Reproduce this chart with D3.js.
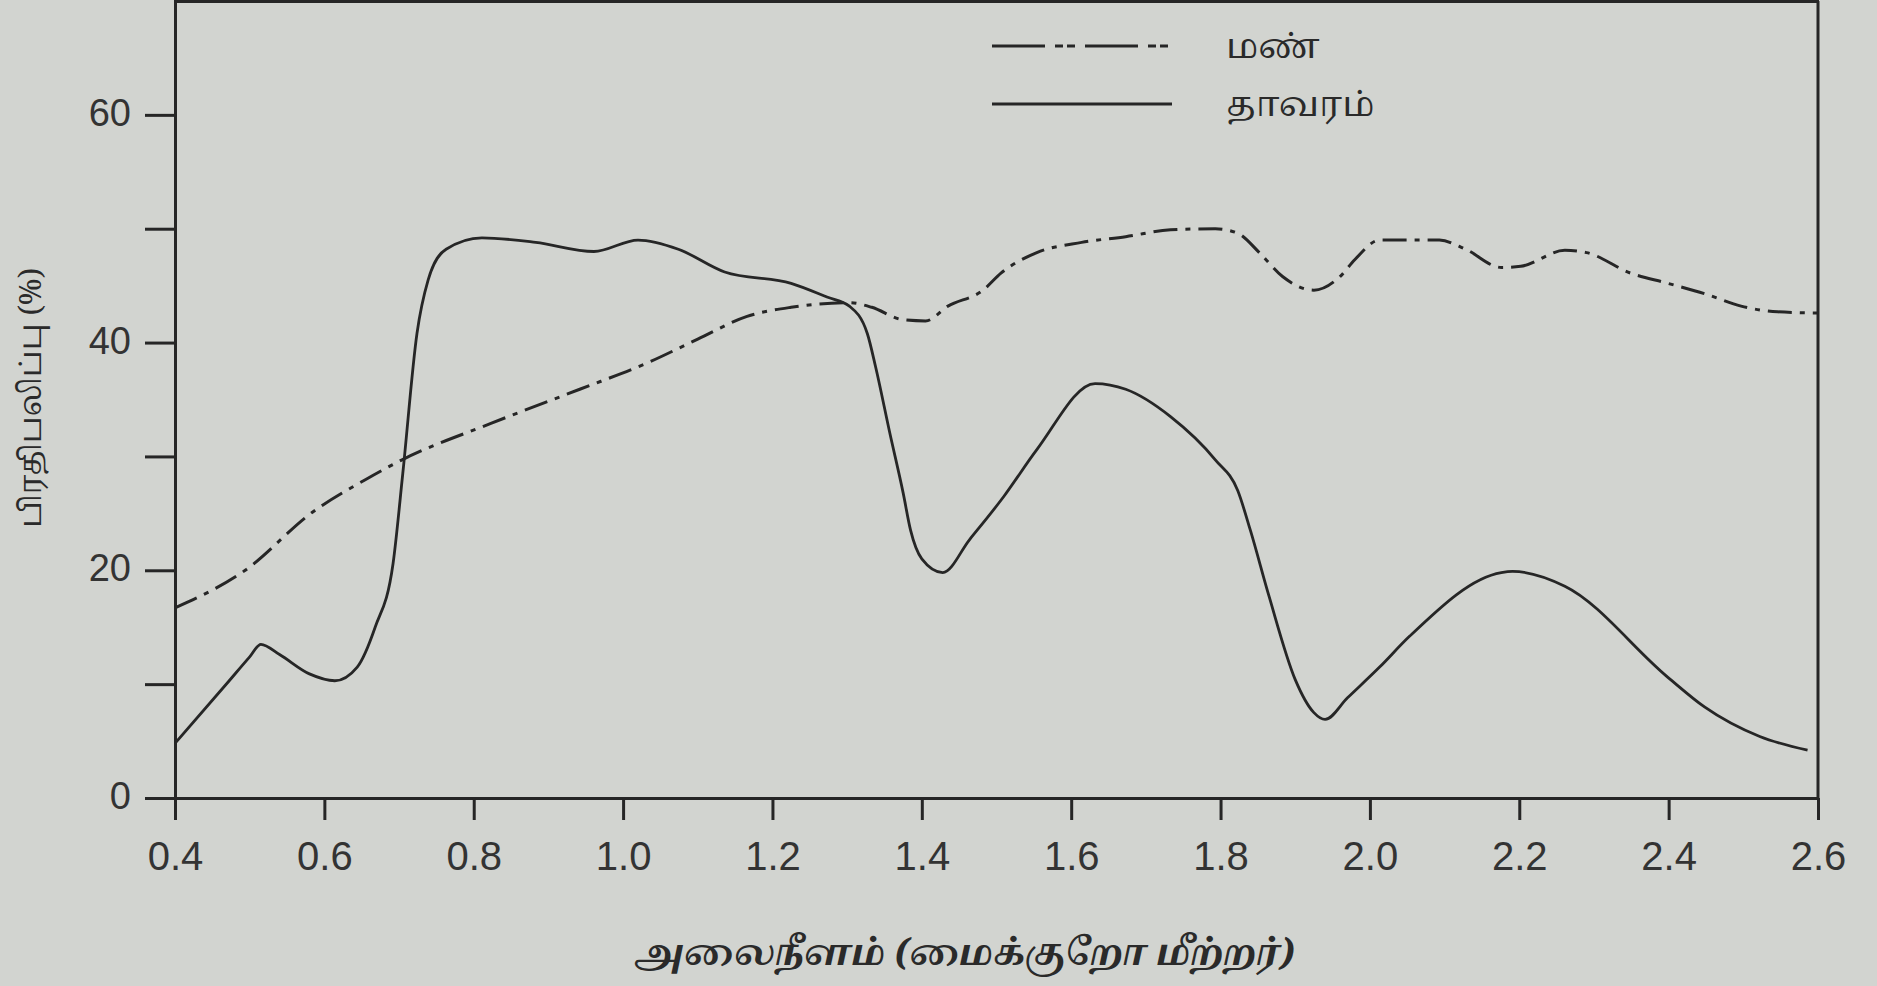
<!DOCTYPE html>
<html lang="ta">
<head>
<meta charset="utf-8">
<title>பிரதிபலிப்பு</title>
<style>
  html, body { margin: 0; padding: 0; }
  body { background-color: #d2d4d0; }
  svg { display: block; }
  .tick text { font-family: 'Liberation Sans', Arial, sans-serif; fill: #333; }
  .tam { font-family: 'Noto Serif Tamil', 'Noto Sans Tamil', 'Latha', serif; fill: #2a2a2a; }
</style>
<script src="https://d3js.org/d3.v7.min.js" charset="utf-8"></script>
</head>
<body>
<svg id="chart" width="1877" height="986"></svg>
<script type="text/javascript">
// values
var xTicks = [0.4, 0.6, 0.8, 1.0, 1.2, 1.4, 1.6, 1.8, 2.0, 2.2, 2.4, 2.6];
var yTicks = [0, 10, 20, 30, 40, 50, 60];
var yLabelled = [0, 20, 40, 60];

// தாவரம் (vegetation)
var vegWave = [0.40, 0.47, 0.50, 0.515, 0.54, 0.58, 0.614, 0.644, 0.668, 0.692, 0.705, 0.724, 0.739, 0.763, 0.811,
               0.883, 0.961, 1.020, 1.074, 1.136, 1.225, 1.273, 1.303, 1.327, 1.338, 1.357, 1.375,
               1.385, 1.400, 1.428, 1.464, 1.510, 1.554, 1.632, 1.673, 1.733, 1.793, 1.823, 1.840,
               1.865, 1.900, 1.925, 1.940, 1.97, 2.013, 2.053, 2.176, 2.191, 2.261, 2.399, 2.448, 2.522, 2.586];
var vegRefl = [4.8, 10.1, 12.4, 13.5, 12.6, 10.9, 10.3, 11.5, 15.0, 20.6, 28.5, 40.8, 45.5, 48.2, 49.2,
               48.8, 48.0, 49.0, 48.2, 46.2, 45.2, 44.0, 43.2, 40.8, 37.9, 32.1, 26.8,
               23.5, 21.0, 19.8, 22.7, 26.5, 30.6, 36.4, 35.9, 33.5, 29.7, 27.0, 23.5,
               17.7, 10.4, 7.5, 6.9, 8.8, 11.5, 14.2, 19.8, 19.9, 18.6, 10.6, 8.0, 5.4, 4.2];

// மண் (soil)
var soilWave = [0.40, 0.494, 0.584, 0.656, 0.704, 0.823, 0.942, 1.032, 1.10, 1.166, 1.225, 1.303,
                1.333, 1.375, 1.405, 1.435, 1.482, 1.506, 1.554, 1.614, 1.673, 1.733, 1.793, 1.823,
                1.852, 1.883, 1.925, 1.960, 1.980, 2.013, 2.053, 2.093, 2.128, 2.176, 2.202, 2.261,
                2.290, 2.349, 2.399, 2.448, 2.497, 2.546, 2.60];
var soilRefl = [16.7, 20.0, 25.1, 28.0, 29.7, 32.9, 35.9, 38.2, 40.3, 42.3, 43.1, 43.5,
                43.1, 42.0, 41.9, 43.2, 44.6, 46.1, 47.9, 48.8, 49.3, 49.9, 50.0, 49.6,
                47.9, 45.8, 44.6, 45.8, 47.3, 49.0, 49.0, 49.0, 48.2, 46.6, 46.7, 48.1,
                47.9, 46.1, 45.2, 44.3, 43.2, 42.7, 42.6];

var legendNames = ["மண்", "தாவரம்"];
var xTitle = "அலைநீளம் (மைக்குறோ மீற்றர்)";
var yTitle = "பிரதிபலிப்பு (%)";

var ink = "#262626";
var soilDash = "24,8,5,8";

var svg = d3.select("#chart");

var x = d3.scaleLinear().domain([0.4, 2.6]).range([175, 1818]);
var y = d3.scaleLinear().domain([0, 70]).range([798, 1]);

// axes
var xAxis = d3.axisBottom(x)
    .tickValues(xTicks)
    .tickSize(22)
    .tickSizeOuter(0)
    .tickPadding(22)
    .tickFormat(d3.format(".1f"));

var yAxis = d3.axisLeft(y)
    .tickValues(yTicks)
    .tickSize(30)
    .tickSizeOuter(0)
    .tickPadding(14)
    .tickFormat(function(d) { return yLabelled.indexOf(d) >= 0 ? d : ""; });

var gx = svg.append("g").attr("transform", "translate(0," + y(0) + ")").call(xAxis);
var gy = svg.append("g").attr("transform", "translate(" + x(0.4) + ",0)").call(yAxis);

gx.selectAll(".tick text").attr("font-size", 40);
gy.selectAll(".tick text").attr("font-size", 38).attr("dy", "0.28em");

[gx, gy].forEach(function(g) {
    g.select(".domain").attr("stroke", ink).attr("stroke-width", 3);
    g.selectAll(".tick line").attr("stroke", ink).attr("stroke-width", 3);
});

// top and right frame
svg.append("line")
    .attr("x1", x(0.4) - 1).attr("x2", x(2.6) + 1)
    .attr("y1", y(70)).attr("y2", y(70))
    .attr("stroke", ink).attr("stroke-width", 4);
svg.append("line")
    .attr("x1", x(2.6)).attr("x2", x(2.6))
    .attr("y1", y(70)).attr("y2", y(0))
    .attr("stroke", ink).attr("stroke-width", 3);

// curves
var line = d3.line()
    .x(function(d) { return x(d[0]); })
    .y(function(d) { return y(d[1]); })
    .curve(d3.curveMonotoneX);

var veg = d3.zip(vegWave, vegRefl);
var soil = d3.zip(soilWave, soilRefl);

svg.append("path")
    .attr("d", line(soil))
    .attr("fill", "none")
    .attr("stroke", ink)
    .attr("stroke-width", 3)
    .attr("stroke-dasharray", soilDash);

svg.append("path")
    .attr("d", line(veg))
    .attr("fill", "none")
    .attr("stroke", ink)
    .attr("stroke-width", 2.8);

// legend
var legend = svg.append("g");
var legendY = [46, 104];
legend.append("line")
    .attr("x1", 992).attr("x2", 1172)
    .attr("y1", legendY[0]).attr("y2", legendY[0])
    .attr("stroke", ink).attr("stroke-width", 3)
    .attr("stroke-dasharray", "53,10,8,4,8,10");
legend.append("line")
    .attr("x1", 992).attr("x2", 1172)
    .attr("y1", legendY[1]).attr("y2", legendY[1])
    .attr("stroke", ink).attr("stroke-width", 3);
legend.selectAll("text.tam")
    .data(legendNames)
    .enter().append("text")
    .attr("class", "tam")
    .attr("x", 1226)
    .attr("y", function(d, i) { return legendY[i]; })
    .attr("dy", "0.35em")
    .attr("font-size", 35)
    .text(function(d) { return d; });

// axis titles
svg.append("text")
    .attr("class", "tam")
    .attr("x", 965).attr("y", 952)
    .attr("dy", "0.35em")
    .attr("text-anchor", "middle")
    .attr("font-size", 36)
    .attr("font-weight", "bold")
    .attr("font-style", "italic")
    .text(xTitle);

svg.append("text")
    .attr("class", "tam")
    .attr("transform", "translate(30,398) rotate(-90)")
    .attr("dy", "0.35em")
    .attr("text-anchor", "middle")
    .attr("font-size", 30)
    .text(yTitle);
</script>
</body>
</html>
